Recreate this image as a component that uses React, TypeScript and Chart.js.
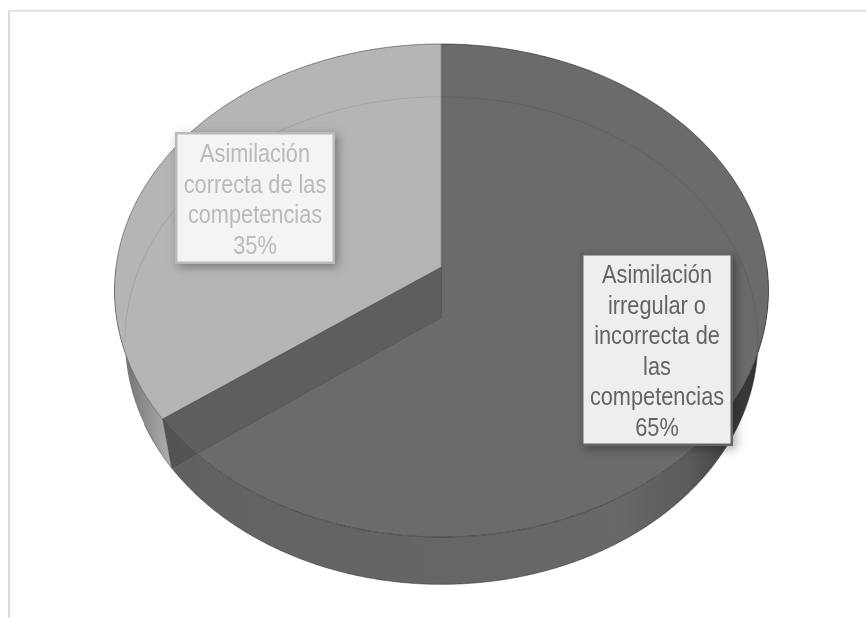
import { useEffect, useRef } from "react";
import { Chart, registerables } from "chart.js";

Chart.register(...registerables);

const sliceNames = [
  "Asimilación irregular o incorrecta de las competencias",
  "Asimilación correcta de las competencias",
];
const sliceValues = [65, 35];
const sliceColors = ["#6b6b6b", "#b5b5b5"];

const irregularLines = ["Asimilación", "irregular o", "incorrecta de", "las", "competencias", "65%"];
const correctLines = ["Asimilación", "correcta de las", "competencias", "35%"];

// Perspective of the tilted disc: each face is a circle seen through a homography.
const TOP_FACE = { dy: 0, rx: 325.5, ry: 244.3, k: 0.0953 };
const BOTTOM_FACE = { dy: 50.5, rx: 315, ry: 241.6, k: 0.0947 };

type Face = typeof TOP_FACE;
type Pt = [number, number];

function project(cx: number, cy: number, face: Face, angle: number): Pt {
  const u = Math.cos(angle);
  const v = Math.sin(angle);
  const w = 1 - face.k * v;
  return [cx + (face.rx * u) / w, cy + face.dy + (face.ry * v) / w];
}

function arcPoints(cx: number, cy: number, face: Face, from: number, to: number): Pt[] {
  const steps = Math.max(2, Math.ceil(Math.abs(to - from) / 0.01));
  const pts: Pt[] = [];
  for (let i = 0; i <= steps; i++) {
    pts.push(project(cx, cy, face, from + ((to - from) * i) / steps));
  }
  return pts;
}

function tracePolygon(ctx: CanvasRenderingContext2D, pts: Pt[]) {
  ctx.beginPath();
  pts.forEach(([x, y], i) => (i ? ctx.lineTo(x, y) : ctx.moveTo(x, y)));
}

function strokeLine(ctx: CanvasRenderingContext2D, pts: Pt[], color: string, width = 1) {
  tracePolygon(ctx, pts);
  ctx.strokeStyle = color;
  ctx.lineWidth = width;
  ctx.stroke();
}

function drawCallout(
  ctx: CanvasRenderingContext2D,
  box: { x: number; y: number; w: number; h: number },
  lines: string[],
  fill: string,
  ink: string,
  firstBaseline: number,
  leading: number,
) {
  ctx.save();
  ctx.shadowColor = "rgba(0,0,0,0.33)";
  ctx.shadowBlur = 9;
  ctx.shadowOffsetX = 3;
  ctx.shadowOffsetY = 3;
  ctx.fillStyle = ink;
  ctx.fillRect(box.x, box.y, box.w, box.h);
  ctx.restore();
  ctx.fillStyle = fill;
  ctx.fillRect(box.x + 2.5, box.y + 2.5, box.w - 5, box.h - 5);

  ctx.save();
  ctx.fillStyle = ink;
  ctx.textAlign = "center";
  ctx.textBaseline = "alphabetic";
  ctx.font = '25px "Liberation Sans"';
  const cx = box.x + box.w / 2;
  lines.forEach((line, i) => {
    ctx.save();
    ctx.translate(cx, firstBaseline + i * leading);
    ctx.scale(0.87, 1);
    ctx.fillText(line, 0, 0);
    ctx.restore();
  });
  ctx.restore();
}

// Paints the doughnut controller's arcs as an extruded disc in perspective.
const extrudedPie = {
  id: "extrudedPie",
  beforeDatasetsDraw(chart: Chart) {
    const ctx = chart.ctx;
    const arcs = chart.getDatasetMeta(0).data as any[];
    const dark = arcs[0];
    const light = arcs[1];
    const cx = dark.x;
    const cy = dark.y;

    // Outer wall of the light slice, on the left
    const lightWall = [
      ...arcPoints(cx, cy, TOP_FACE, light.startAngle, Math.PI),
      ...arcPoints(cx, cy, BOTTOM_FACE, Math.PI, light.startAngle),
    ];
    const leftShade = ctx.createLinearGradient(115, 0, 172, 0);
    leftShade.addColorStop(0, "#666666");
    leftShade.addColorStop(0.35, "#808080");
    leftShade.addColorStop(1, "#b0b0b0");
    tracePolygon(ctx, lightWall);
    ctx.closePath();
    ctx.fillStyle = leftShade;
    ctx.fill();

    // Outer wall of the dark slice, along the front and right
    const darkWall = [
      ...arcPoints(cx, cy, TOP_FACE, 0, dark.endAngle),
      ...arcPoints(cx, cy, BOTTOM_FACE, dark.endAngle, 0),
    ];
    const rightShade = ctx.createLinearGradient(165, 0, 770, 0);
    rightShade.addColorStop(0, "#5f5f5f");
    rightShade.addColorStop(0.1, "#636363");
    rightShade.addColorStop(0.75, "#686868");
    rightShade.addColorStop(0.87, "#5a5a5a");
    rightShade.addColorStop(0.95, "#3a3a3a");
    rightShade.addColorStop(1, "#2e2e2e");
    tracePolygon(ctx, darkWall);
    ctx.closePath();
    ctx.fillStyle = rightShade;
    ctx.fill();

    // Top faces
    [dark, light].forEach((arc, i) => {
      const pts = [...arcPoints(cx, cy, TOP_FACE, arc.startAngle, arc.endAngle), [cx, cy] as Pt];
      tracePolygon(ctx, pts);
      ctx.closePath();
      ctx.fillStyle = sliceColors[i];
      ctx.fill();
    });

    // Cut face between the slices, seen through the translucent disc
    const cutTop = project(cx, cy, TOP_FACE, dark.endAngle);
    const cutBottom = project(cx, cy, BOTTOM_FACE, dark.endAngle);
    tracePolygon(ctx, [[cx, cy], cutTop, cutBottom, [cx, cy + BOTTOM_FACE.dy]]);
    ctx.closePath();
    ctx.fillStyle = "rgba(0,0,0,0.12)";
    ctx.fill();
    strokeLine(ctx, [cutBottom, [cx, cy + BOTTOM_FACE.dy], [cx, cy]], "rgba(0,0,0,0.1)");

    // Hidden rim of the bottom face, faintly visible through the top
    strokeLine(
      ctx,
      arcPoints(cx, cy, BOTTOM_FACE, -Math.PI - 0.1, 0.15),
      "rgba(0,0,0,0.09)",
    );

    // Visible edges
    strokeLine(ctx, [[cx, TOP_FACE.dy + cy - TOP_FACE.ry / (1 + TOP_FACE.k)], [cx, cy]], "rgba(60,60,60,0.55)", 1.5);
    strokeLine(ctx, [[cx, cy], cutTop], "rgba(50,50,50,0.6)");
    strokeLine(ctx, [cutTop, cutBottom], "rgba(50,50,50,0.35)");
    strokeLine(ctx, arcPoints(cx, cy, TOP_FACE, light.startAngle, light.endAngle), "rgba(70,70,70,0.6)");
    strokeLine(ctx, arcPoints(cx, cy, TOP_FACE, -Math.PI / 2, dark.endAngle), "rgba(35,35,35,0.55)");
    strokeLine(ctx, arcPoints(cx, cy, BOTTOM_FACE, 0.15, Math.PI * 0.86), "rgba(50,50,50,0.5)");

    return false;
  },
  afterDraw(chart: Chart) {
    const ctx = chart.ctx;
    drawCallout(ctx, { x: 175, y: 132, w: 160, h: 132 }, correctLines, "#f4f4f4", "#bababa", 162, 30.6);
    drawCallout(ctx, { x: 581, y: 253, w: 152, h: 193 }, irregularLines, "#eeeeee", "#646464", 283, 30.6);
  },
};

// Thin rule along the top and left of the chart area
const chartFrame = {
  id: "chartFrame",
  beforeDraw(chart: Chart) {
    const ctx = chart.ctx;
    ctx.fillStyle = "#dcdcdc";
    ctx.fillRect(8, 10, chart.width - 8, 1.5);
    ctx.fillRect(8, 10, 2, chart.height - 10);
  },
};

export default function App() {
  const canvasRef = useRef<HTMLCanvasElement | null>(null);

  useEffect(() => {
    const chart = new Chart(canvasRef.current!, {
      type: "pie",
      data: {
        labels: sliceNames,
        datasets: [{ data: sliceValues, backgroundColor: sliceColors, borderWidth: 0, hoverOffset: 0 }],
      },
      options: {
        responsive: false,
        animation: false,
        // Centres the arcs on the apex of the disc
        layout: { padding: { left: 17, right: 0, top: 0, bottom: 84 } },
        plugins: { legend: { display: false }, tooltip: { enabled: false }, title: { display: false } },
      },
      plugins: [chartFrame, extrudedPie],
    } as any);
    return () => chart.destroy();
  }, []);

  return (
    <div style={{ position: "absolute", left: 0, top: 0, width: 866, height: 618, background: "#fff" }}>
      <canvas ref={canvasRef} width={866} height={618} style={{ display: "block" }} />
    </div>
  );
}
